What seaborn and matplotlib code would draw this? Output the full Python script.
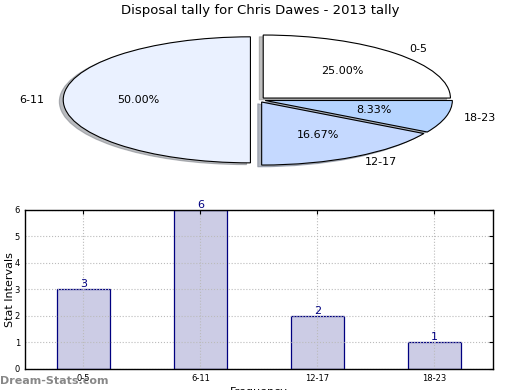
import matplotlib
matplotlib.use("Agg")
import matplotlib.pyplot as plt
import seaborn as sns
import pandas as pd

# Data
intervals = ["0-5", "6-11", "12-17", "18-23"]
counts = [3, 6, 2, 1]
pie_colors = ["#FFFFFF", "#EAF1FF", "#C5D9FF", "#B5D4FF"]

df = pd.DataFrame({"interval": intervals, "count": counts})

sns.set_style("white")
plt.rcParams["font.family"] = ["DejaVu Sans"]
plt.rcParams["text.color"] = "black"
plt.rcParams["axes.labelcolor"] = "black"

fig = plt.figure(figsize=(5.2, 3.9), dpi=100)

# Pie (stretched, old-style shadow)
ax1 = fig.add_axes([0.046, 0.542, 0.9, 0.404])
wedges, texts, autotexts = ax1.pie(
    df["count"], labels=df["interval"], colors=pie_colors,
    explode=[0.04] * len(counts), autopct="%.2f%%",
    shadow={"ox": -0.015, "oy": -0.02, "shade": 0.5},
    startangle=0, counterclock=True,
    wedgeprops={"edgecolor": "black", "linewidth": 0.8},
    textprops={"fontsize": 8, "color": "black"},
)
ax1.set_aspect("auto")
ax1.set_xlim(-1.25, 1.25)
ax1.set_ylim(-1.25, 1.25)
fig.text(0.5, 0.972, "Disposal tally for Chris Dawes - 2013 tally",
         ha="center", va="center", fontsize=9.5, color="black")

# Bar chart
ax2 = fig.add_axes([0.048, 0.054, 0.9, 0.408])
sns.barplot(data=df, x="interval", y="count", ax=ax2, color="#CCCCE5",
            saturation=1, edgecolor="navy", linewidth=0.9, width=0.45)
ax2.set_xlim(-0.5, 3.5)
ax2.set_ylim(0, 6)
ax2.set_yticks(range(0, 7))
ax2.grid(True, linestyle=":", color="#BBBBBB", linewidth=0.8)
ax2.set_axisbelow(False)
for s in ax2.spines.values():
    s.set_color("black")
    s.set_linewidth(1)
    s.set_zorder(5)
ax2.tick_params(direction="in", right=True, top=True, labelsize=6, length=3,
                colors="black")
ax2.set_ylabel("Stat Intervals", fontsize=8)
ax2.yaxis.set_label_coords(-0.022, 0.5)
ax2.set_xlabel("Frequency", fontsize=8, labelpad=3)
for i, v in enumerate(counts):
    ax2.text(i, v, str(v), ha="center", va="bottom", color="navy", fontsize=8)

fig.text(0.0, 0.024, "Dream-Stats.com", ha="left", va="center",
         fontsize=8, color="#888888", fontweight="bold", zorder=10)

fig.savefig("out.png", dpi=100)
